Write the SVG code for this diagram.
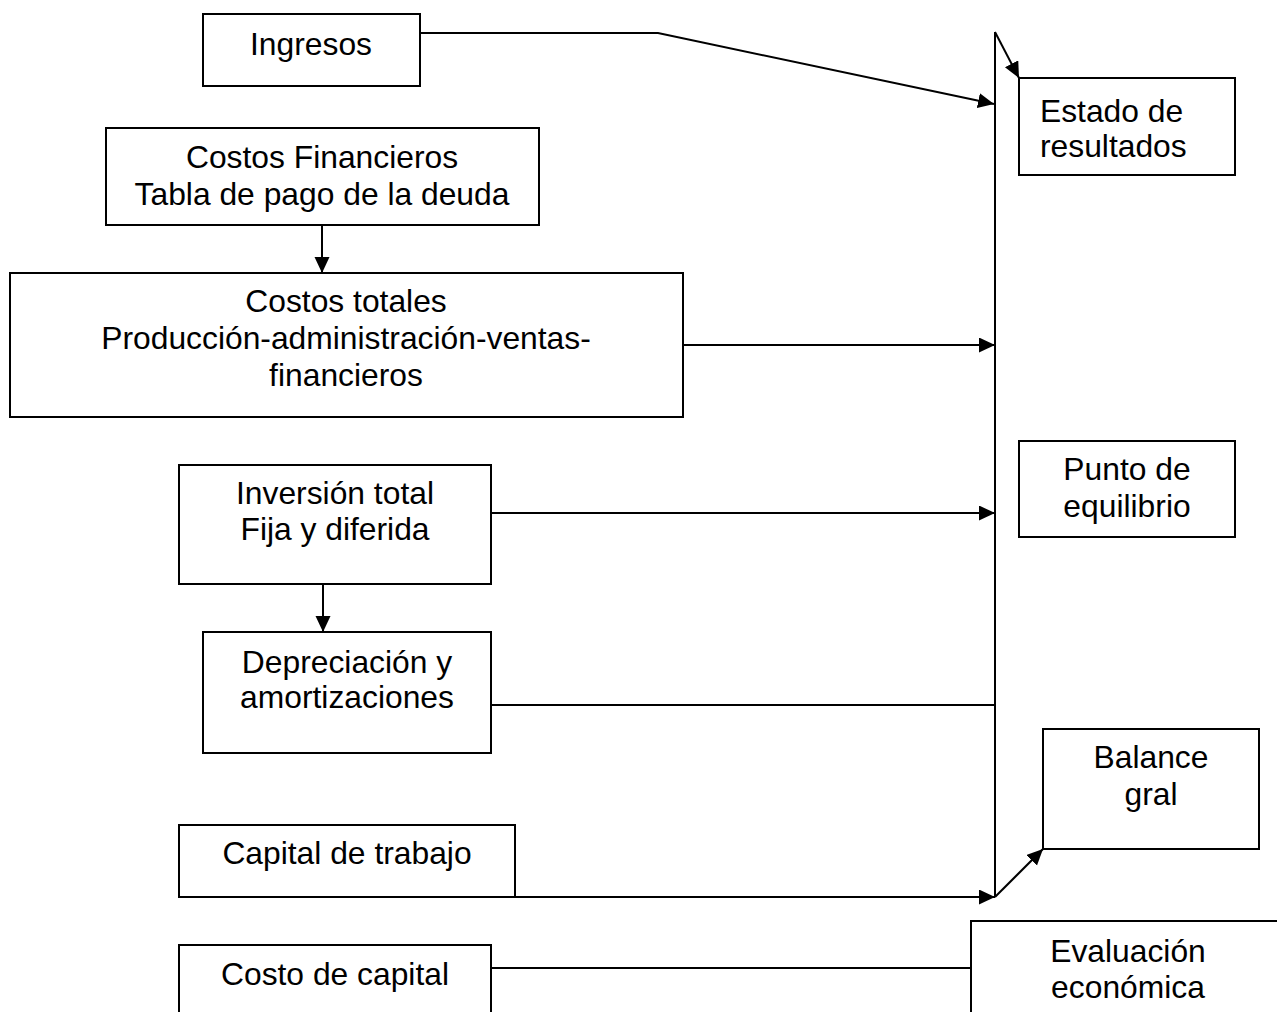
<svg xmlns="http://www.w3.org/2000/svg" width="1277" height="1012" viewBox="0 0 1277 1012">
<style>
.box{fill:#fff;stroke:#000;stroke-width:2}
.ln{fill:none;stroke:#000;stroke-width:2}
text{font-family:"Liberation Sans",Arial,sans-serif;font-size:31.8px;fill:#000}
.c{text-anchor:middle}
</style>
<defs>
<marker id="ah" markerUnits="userSpaceOnUse" markerWidth="17" markerHeight="16" refX="16" refY="7.5" orient="auto">
<path d="M0,0 L16,7.5 L0,15 z" fill="#000"/>
</marker>
</defs>
<rect width="1277" height="1012" fill="#fff"/>
<g id="connectors">
<polyline class="ln" points="420,33 658,33 994,104" marker-end="url(#ah)"/>
<line class="ln" x1="995" y1="32" x2="995" y2="897"/>
<line class="ln" x1="995" y1="32" x2="1019" y2="78" marker-end="url(#ah)"/>
<line class="ln" x1="322" y1="225" x2="322" y2="273" marker-end="url(#ah)"/>
<line class="ln" x1="683" y1="345" x2="995" y2="345" marker-end="url(#ah)"/>
<line class="ln" x1="491" y1="513" x2="995" y2="513" marker-end="url(#ah)"/>
<line class="ln" x1="323" y1="584" x2="323" y2="632" marker-end="url(#ah)"/>
<line class="ln" x1="491" y1="705" x2="995" y2="705"/>
<line class="ln" x1="515" y1="897" x2="995" y2="897" marker-end="url(#ah)"/>
<line class="ln" x1="995" y1="897" x2="1043" y2="849" marker-end="url(#ah)"/>
<line class="ln" x1="491" y1="968" x2="971" y2="968"/>
</g>
<g id="ingresos">
<rect class="box" x="203" y="14" width="217" height="72"/>
<text class="c" x="311" y="55">Ingresos</text>
</g>
<g id="costos-financieros">
<rect class="box" x="106" y="128" width="433" height="97"/>
<text class="c" x="322" y="168">Costos Financieros</text>
<text class="c" x="322" y="205">Tabla de pago de la deuda</text>
</g>
<g id="costos-totales">
<rect class="box" x="10" y="273" width="673" height="144"/>
<text class="c" x="346" y="312">Costos totales</text>
<text class="c" x="346" y="349">Producción-administración-ventas-</text>
<text class="c" x="346" y="386">financieros</text>
</g>
<g id="inversion-total">
<rect class="box" x="179" y="465" width="312" height="119"/>
<text class="c" x="335" y="504">Inversión total</text>
<text class="c" x="335" y="540">Fija y diferida</text>
</g>
<g id="depreciacion">
<rect class="box" x="203" y="632" width="288" height="121"/>
<text class="c" x="347" y="673">Depreciación y</text>
<text class="c" x="347" y="708">amortizaciones</text>
</g>
<g id="capital-trabajo">
<rect class="box" x="179" y="825" width="336" height="72"/>
<text class="c" x="347" y="864">Capital de trabajo</text>
</g>
<g id="costo-capital">
<rect class="box" x="179" y="945" width="312" height="80"/>
<text class="c" x="335" y="985">Costo de capital</text>
</g>
<g id="estado-resultados">
<rect class="box" x="1019" y="78" width="216" height="97"/>
<text x="1040" y="122">Estado de</text>
<text x="1040" y="157">resultados</text>
</g>
<g id="punto-equilibrio">
<rect class="box" x="1019" y="441" width="216" height="96"/>
<text class="c" x="1127" y="480">Punto de</text>
<text class="c" x="1127" y="517">equilibrio</text>
</g>
<g id="balance-gral">
<rect class="box" x="1043" y="729" width="216" height="120"/>
<text class="c" x="1151" y="768">Balance</text>
<text class="c" x="1151" y="805">gral</text>
</g>
<g id="evaluacion-economica">
<rect class="box" x="971" y="921" width="314" height="110"/>
<text class="c" x="1128" y="962">Evaluación</text>
<text class="c" x="1128" y="998">económica</text>
</g>
</svg>
